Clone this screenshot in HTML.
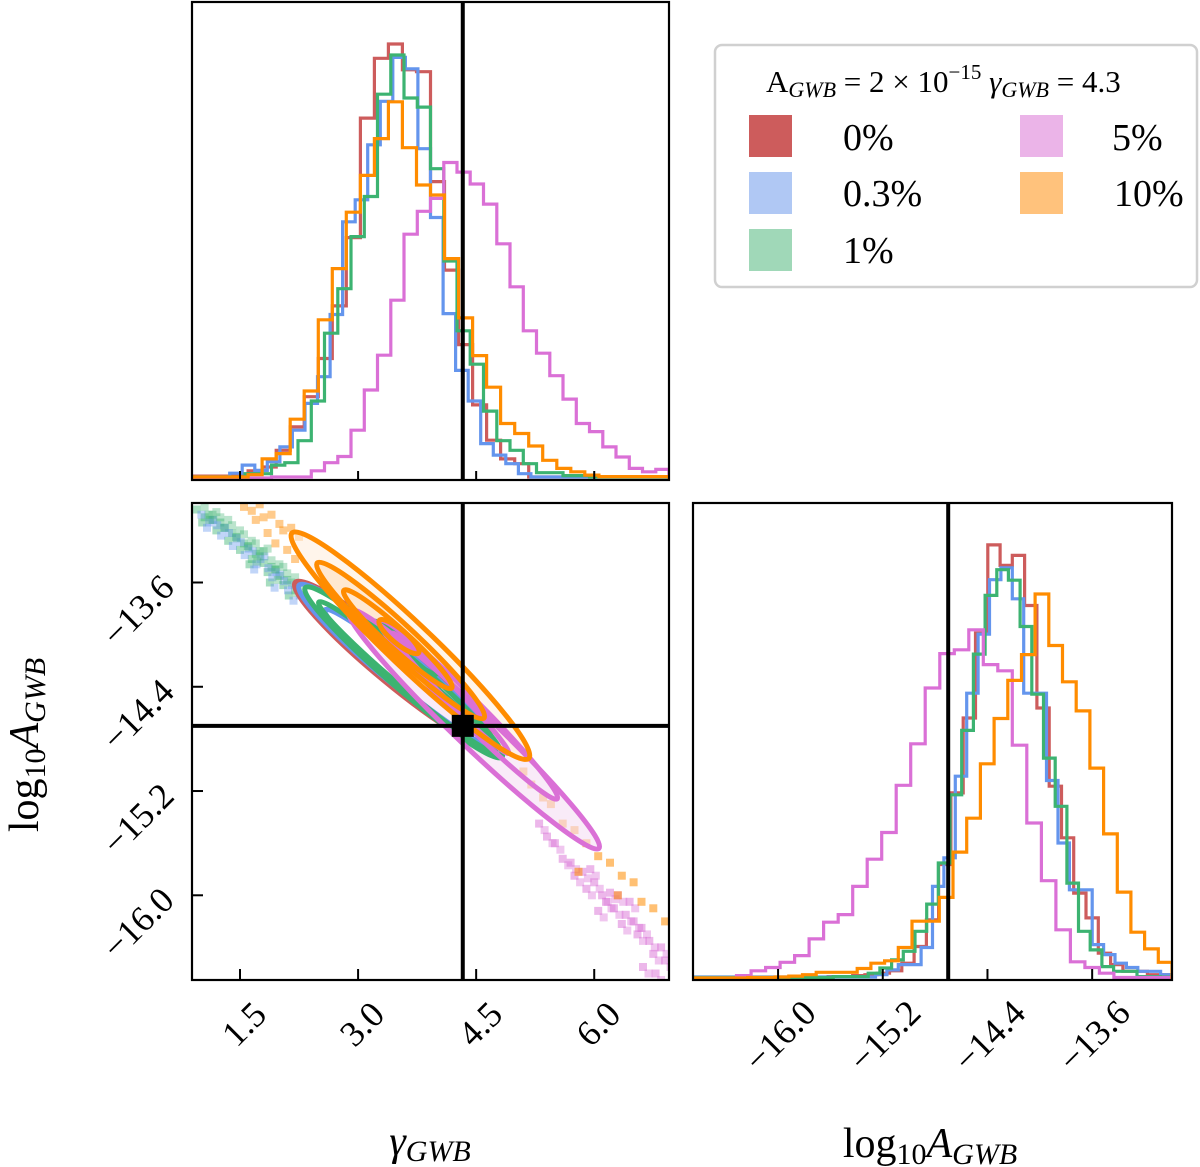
<!DOCTYPE html>
<html><head><meta charset="utf-8"><style>
html,body{margin:0;padding:0;background:#fff;}
svg{display:block;font-family:"Liberation Serif","DejaVu Serif",serif;}
</style></head><body>
<svg id="fig" width="1200" height="1167" viewBox="0 0 1200 1167" xmlns="http://www.w3.org/2000/svg">
<g id="layer"></g>
<g>
<rect x="715" y="45" width="482" height="242" rx="7" fill="#fff" stroke="#d0d0d0" stroke-width="2.5"/>
<text x="766" y="92" font-size="31">A<tspan font-style="italic" font-size="22" dy="5">GWB</tspan><tspan dy="-5"> = 2 × 10</tspan><tspan font-size="21" dy="-13">−15</tspan><tspan dy="13" font-style="italic"> γ</tspan><tspan font-style="italic" font-size="22" dy="5">GWB</tspan><tspan dy="-5"> = 4.3</tspan></text>
<rect x="749" y="115" width="43" height="42" fill="#cd5c5c"/>
<text x="843" y="150" font-size="38">0%</text>
<rect x="749" y="172" width="43" height="42" fill="#b0c8f4"/>
<text x="843" y="206" font-size="38">0.3%</text>
<rect x="749" y="229" width="43" height="42" fill="#a0d8b8"/>
<text x="843" y="263" font-size="38">1%</text>
<rect x="1020" y="115" width="43" height="42" fill="#ebb4e8"/>
<text x="1112" y="150" font-size="38">5%</text>
<rect x="1020" y="172" width="43" height="42" fill="#ffc27c"/>
<text x="1114" y="206" font-size="38">10%</text>
</g>
<text x="430" y="1155" font-size="42" text-anchor="middle" font-style="italic">γ<tspan font-size="30" dy="6">GWB</tspan></text>
<text x="930" y="1157" font-size="42" text-anchor="middle">log<tspan font-size="30" dy="7">10</tspan><tspan dy="-7" font-style="italic">A</tspan><tspan font-style="italic" font-size="30" dy="7">GWB</tspan></text>
<text transform="translate(38,745) rotate(-90)" font-size="42" text-anchor="middle">log<tspan font-size="30" dy="7">10</tspan><tspan dy="-7" font-style="italic">A</tspan><tspan font-style="italic" font-size="30" dy="7">GWB</tspan></text>
</svg>
<script>
// ---- data ----
const gammaTicks = [1.5, 3.0, 4.5, 6.0];
const gammaTickLabels = ["1.5", "3.0", "4.5", "6.0"];
const logATicks = [-13.6, -14.4, -15.2, -16.0];
const logATickLabels = ["\u221213.6", "\u221214.4", "\u221215.2", "\u221216.0"];
const truthGamma = 4.33;
const truthLogA = -14.7;
const gammaRange = [0.89, 6.95];
const logARange = [-16.65, -12.99];

const gammaHistRed = [0.4,0.4,0.4,0.5,1.5,2.3,5.8,10.7,17,25,36,50.3,75.3,87.8,90.8,85.4,85,62,43.5,27.9,15.3,7.9,4,3,0.2,0.2,0.2,0.2,0.2,0.2,0.2,0.2,0.2,0.2];
const gammaHistBlue = [0.2,0.2,0.2,1,2.7,1.6,3.4,6.5,10,15.6,21.2,34.2,53.6,58.2,69.7,78.8,88,85.6,68.9,54.5,34.4,22.5,16.1,7.2,4.8,3,0.9,0.2,0.2,0.2,0.2,0.2,0.2,0.2,0.2,0.2,0.2,0.2];
const gammaHistGreen = [0.2,0.2,0.2,0.2,0.9,0.9,2.7,3.2,7.8,16.1,30.3,39.6,50.5,58.9,80.3,88.5,79.5,77.6,64.7,45.4,30.8,23.8,14,7.8,5.8,3,1.1,1.1,0.5,0.5,0.2,0.2,0.2,0.2,0.2,0.2];
const gammaHistPink = [0,0,0,0,0,0,0.2,0.2,0.2,1.5,3.2,4.5,10,18.4,25.7,37.2,51,55.8,58.5,66,64,61.5,57.3,49,40,30.8,26.1,21.4,16.5,11.4,9.7,6.5,4.4,2,1.3,1.8];
const gammaHistOrange = [0.2,0.2,0.2,0.2,0.7,4,5.1,12.3,18.2,33.1,43.8,55.6,63.3,71,78.7,69.1,61.3,59.2,45.9,33.5,25.6,19,11.4,9.3,6.7,3.7,2,1.3,0.6,0.3,0.3,0.3,0.3,0.3];

const logAHistRed = [0,0,0,0,0,0,0,0,0,0,0,0.3,0.3,0.5,0.7,1,1.5,3.1,6.6,12.2,23.8,38.8,54.5,72.3,90.8,86.5,88.6,78.1,56.6,40.2,29.4,17.8,12.6,5.2,2.8,1.4,1.4,0.7,0.7];
const logAHistBlue = [0.2,0.2,0.2,0.2,0.2,0.2,0.2,0.2,0.2,0.2,0.2,0.2,0.2,0.2,0.2,0.2,0.7,1.7,2.8,2.8,6.4,19.2,25.2,42.3,59.7,72.1,83.5,86,79.5,59.7,59.7,41.4,28.3,18.5,18.5,7,4.9,3.1,2.2,1.4,1.4,0.7];
const logAHistGreen = [0.1,0.1,0.1,0.1,0.1,0.1,0.1,0.1,0.1,0.1,0.1,0.1,0.3,0.3,0.3,1,2.1,3.8,5.6,9.8,15.5,24.1,38.4,51.9,67.9,80.2,85.6,83.4,73.7,59.5,46.1,36,19.9,9.8,5.9,2.4,1.4,1.4,0.3,0.3,0.2];
const logAHistPink = [0,0,0,0.5,1.5,2.2,3.3,4.7,8.2,11.7,13.3,19.2,24.9,30.5,40.4,49.1,60.8,68,68.8,73,65.7,64.4,48.8,32.5,20.4,10.1,3.4,2.2,1,0.1,0.1,0.1,0.1];
const logAHistOrange = [0,0,0,0,0.1,0.1,0.2,0.4,0.7,1.2,1.2,1.2,2,3.1,3.6,6.4,11.9,11.9,16.9,26.4,33.5,44.9,54.4,62.4,67.8,80.5,69.7,62.1,56,44,30.2,18,9.6,6.1,3.3];

// contours: major-axis endpoints in data units (gamma, logA)
const contourSeries = ["red","blue","blue","green","green","green","pink","pink","pink","orange","orange","orange","orange"];
const contourG1 = [2.20,2.25,2.58,2.33,2.50,3.20,2.88,3.27,3.43,2.16,2.48,2.82,3.27];
const contourA1 = [-13.60,-13.62,-13.81,-13.64,-13.75,-13.90,-13.81,-13.89,-13.99,-13.22,-13.45,-13.66,-13.89];
const contourG2 = [4.72,4.68,4.66,4.83,4.75,4.00,6.06,5.53,4.91,5.17,4.60,4.19,3.77];
const contourA2 = [-14.86,-14.83,-14.84,-14.94,-14.90,-14.30,-15.64,-15.26,-14.91,-14.95,-14.64,-14.41,-14.14];
const contourHalfWidth = [19,17,11,16,11,6,18,12,7,22,15,10,7];

// scatter samples outside contours
const scatterUpperG = [0.95,1.05,1.15,1.2,1.3,1.35,1.45,1.5,1.6,1.65,1.7,1.8,1.85,1.9,2.0,2.05,2.1,2.2,1.25,1.55,1.75,1.95,1.1,1.4,1.62,1.88,2.12,1.02];
const scatterUpperA = [-13.04,-13.1,-13.12,-13.2,-13.18,-13.28,-13.25,-13.35,-13.32,-13.42,-13.38,-13.45,-13.52,-13.48,-13.55,-13.62,-13.58,-13.66,-13.14,-13.3,-13.36,-13.5,-13.08,-13.22,-13.46,-13.6,-13.7,-13.14];
const scatterOrangeTopG = [1.55,1.65,1.75,1.8,1.9,2.0,2.05,2.15,2.25,1.7,1.95,2.1,1.85,2.2];
const scatterOrangeTopA = [-13.02,-13.05,-13.0,-13.1,-13.08,-13.15,-13.2,-13.18,-13.25,-13.12,-13.3,-13.35,-13.22,-13.42];
const scatterPinkG = [5.3,5.4,5.5,5.6,5.7,5.75,5.85,5.9,6.0,6.1,6.15,6.25,6.3,6.4,6.5,6.55,6.6,6.7,6.75,6.85,6.9,6.45,6.2,6.62,6.78,5.95,6.35,6.05];
const scatterPinkA = [-15.45,-15.55,-15.6,-15.72,-15.75,-15.85,-15.82,-15.95,-15.9,-16.0,-16.05,-16.1,-16.0,-16.15,-16.2,-16.3,-16.25,-16.35,-16.45,-16.4,-16.5,-16.05,-15.98,-16.55,-16.6,-15.8,-16.22,-16.12];
const scatterOrangeLowG = [5.1,5.2,5.35,5.45,5.6,5.75,5.9,6.05,6.2,6.35,6.5,6.6,6.75,6.9,5.8,6.3];
const scatterOrangeLowA = [-15.05,-15.15,-15.25,-15.3,-15.45,-15.5,-15.6,-15.7,-15.75,-15.85,-15.9,-16.05,-16.1,-16.2,-15.82,-16.0];

const colors = {red:"#cd5c5c", blue:"#6495ed", green:"#3cb371", pink:"#da70d6", orange:"#ff8c00"};

// ---- geometry ----
const TL = {x0:192, x1:669, y0:2, y1:480};
const BL = {x0:192, x1:669, y0:503, y1:980};
const BR = {x0:693, x1:1172, y0:503, y1:980};
function gx(g, p){ return p.x0 + (g - gammaRange[0]) / (gammaRange[1] - gammaRange[0]) * (p.x1 - p.x0); }
function ay(a, p){ return p.y0 + (logARange[1] - a) / (logARange[1] - logARange[0]) * (p.y1 - p.y0); }
function ax(a, p){ return p.x0 + (a - logARange[0]) / (logARange[1] - logARange[0]) * (p.x1 - p.x0); }
function hy(v, p){ return p.y1 - 2 - v / 100 * (p.y1 - p.y0); }

const NS = "http://www.w3.org/2000/svg";
const layer = document.getElementById("layer");
function mk(tag, attrs, parent){
  const e = document.createElementNS(NS, tag);
  for (const k in attrs) e.setAttribute(k, attrs[k]);
  (parent || layer).appendChild(e);
  return e;
}

const defs = mk("defs", {});
[["clipTL",TL],["clipBL",BL],["clipBR",BR]].forEach(([id,p])=>{
  const c = mk("clipPath", {id:id}, defs);
  mk("rect", {x:p.x0, y:p.y0, width:p.x1-p.x0, height:p.y1-p.y0}, c);
});

// ---- histograms ----
function hist(values, p, clip, color, name, lo, hi, mapX){
  const n = values.length;
  let d = "M" + p.x0 + "," + (p.y1);
  for (let i = 0; i < n; i++){
    const xa = mapX(lo + (hi - lo) * i / n, p);
    const xb = mapX(lo + (hi - lo) * (i + 1) / n, p);
    const y = hy(values[i], p);
    d += " L" + xa.toFixed(1) + "," + y.toFixed(1) + " L" + xb.toFixed(1) + "," + y.toFixed(1);
  }
  d += " L" + p.x1 + "," + p.y1;
  const el = mk("path", {d:d, fill:"none", stroke:color, "stroke-width":3.2, "clip-path":"url(#"+clip+")"});
  
  
}
hist(gammaHistRed, TL, "clipTL", colors.red, "gamma-hist-0pct", gammaRange[0], gammaRange[1], gx);
hist(gammaHistBlue, TL, "clipTL", colors.blue, "gamma-hist-0.3pct", gammaRange[0], gammaRange[1], gx);
hist(gammaHistGreen, TL, "clipTL", colors.green, "gamma-hist-1pct", gammaRange[0], gammaRange[1], gx);
hist(gammaHistPink, TL, "clipTL", colors.pink, "gamma-hist-5pct", gammaRange[0], gammaRange[1], gx);
hist(gammaHistOrange, TL, "clipTL", colors.orange, "gamma-hist-10pct", gammaRange[0], gammaRange[1], gx);

hist(logAHistRed, BR, "clipBR", colors.red, "logA-hist-0pct", logARange[0], logARange[1], ax);
hist(logAHistBlue, BR, "clipBR", colors.blue, "logA-hist-0.3pct", logARange[0], logARange[1], ax);
hist(logAHistGreen, BR, "clipBR", colors.green, "logA-hist-1pct", logARange[0], logARange[1], ax);
hist(logAHistPink, BR, "clipBR", colors.pink, "logA-hist-5pct", logARange[0], logARange[1], ax);
hist(logAHistOrange, BR, "clipBR", colors.orange, "logA-hist-10pct", logARange[0], logARange[1], ax);

// ---- 2D panel ----
const g2 = mk("g", {"clip-path":"url(#clipBL)"});


function scatter(G, A, color, name, op){
  for (let i = 0; i < G.length; i++){
    const c = mk("rect", {x:(gx(G[i],BL)-4).toFixed(1), y:(ay(A[i],BL)-4).toFixed(1), width:8, height:8, fill:color, opacity:op}, g2);
    
    
  }
}
scatter(scatterUpperG, scatterUpperA, colors.green, "scatter-point-1pct", 0.45);
scatter(scatterUpperG.map(v=>v+0.06), scatterUpperA.map(v=>v-0.04), colors.blue, "scatter-point-0.3pct", 0.4);
scatter(scatterUpperG.map(v=>v+0.1), scatterUpperA.map(v=>v+0.02), colors.green, "scatter-point-1pct", 0.35);
scatter(scatterOrangeTopG, scatterOrangeTopA, colors.orange, "scatter-point-10pct", 0.45);
scatter(scatterPinkG, scatterPinkA, colors.pink, "scatter-point-5pct", 0.5);
scatter(scatterPinkG.map(v=>v+0.07), scatterPinkA.map(v=>v-0.05), colors.pink, "scatter-point-5pct", 0.4);
scatter(scatterOrangeLowG, scatterOrangeLowA, colors.orange, "scatter-point-10pct", 0.55);

function ellipse(i, fill, fillOp){
  const x1 = gx(contourG1[i],BL), y1 = ay(contourA1[i],BL);
  const x2 = gx(contourG2[i],BL), y2 = ay(contourA2[i],BL);
  const cx = (x1+x2)/2, cy = (y1+y2)/2;
  const rx = Math.hypot(x2-x1, y2-y1)/2;
  const ang = Math.atan2(y2-y1, x2-x1) * 180 / Math.PI;
  const e = mk("ellipse", {cx:cx.toFixed(1), cy:cy.toFixed(1), rx:rx.toFixed(1), ry:contourHalfWidth[i],
    transform:"rotate("+ang.toFixed(2)+" "+cx.toFixed(1)+" "+cy.toFixed(1)+")",
    fill: fill || "none", "fill-opacity": fillOp || 0,
    stroke: fill ? "none" : colors[contourSeries[i]], "stroke-width": 5}, g2);
  
  
}
ellipse(6, "#f5def4", 0.6);
ellipse(9, "#ffeedd", 0.6);
ellipse(10, "#ffdcb8", 0.5);
for (let i = 0; i < contourSeries.length; i++){ if (contourSeries[i] !== "pink" && contourSeries[i] !== "orange") ellipse(i); }
for (let i = 0; i < contourSeries.length; i++){ if (contourSeries[i] === "pink") ellipse(i); }
for (let i = 0; i < contourSeries.length; i++){ if (contourSeries[i] === "orange") ellipse(i); }

function line(x1,y1,x2,y2,name,w){
  const l = mk("line", {x1:x1,y1:y1,x2:x2,y2:y2,stroke:"#000","stroke-width":w||4});
  
  
}
line(gx(truthGamma,TL), TL.y0, gx(truthGamma,TL), TL.y1, "truth-line-gamma-hist");
line(gx(truthGamma,BL), BL.y0, gx(truthGamma,BL), BL.y1, "truth-line-gamma-joint");
line(BL.x0, ay(truthLogA,BL), BL.x1, ay(truthLogA,BL), "truth-line-logA-joint");
line(ax(truthLogA,BR), BR.y0, ax(truthLogA,BR), BR.y1, "truth-line-logA-hist");
const sq = mk("rect", {x:gx(truthGamma,BL)-11, y:ay(truthLogA,BL)-11, width:22, height:22, fill:"#000"});



[[TL,"gamma-hist-frame"],[BL,"joint-frame"],[BR,"logA-hist-frame"]].forEach(([p,n])=>{
  const r = mk("rect", {x:p.x0, y:p.y0, width:p.x1-p.x0, height:p.y1-p.y0, fill:"none", stroke:"#000", "stroke-width":2.2});
  
  
});

gammaTicks.forEach((t,i)=>{
  line(gx(t,TL), TL.y1, gx(t,TL), TL.y1-9, "gamma-hist-tick", 2);
  line(gx(t,BL), BL.y1, gx(t,BL), BL.y1-11, "x-tick-gamma", 2);
  const x = gx(t,BL) + 4, y = 1024;
  const tx = mk("text", {x:x, y:y, "font-size":36, "text-anchor":"middle", "dominant-baseline":"central", transform:"rotate(-45 "+x+" "+y+")"});
  tx.textContent = gammaTickLabels[i];
  
  
});
logATicks.forEach((t,i)=>{
  line(BL.x0, ay(t,BL), BL.x0+11, ay(t,BL), "y-tick-logA", 2);
  const y = ay(t,BL) + 28, x = 138;
  const ty = mk("text", {x:x, y:y, "font-size":36, "text-anchor":"middle", "dominant-baseline":"central", transform:"rotate(-45 "+x+" "+y+")"});
  ty.textContent = logATickLabels[i];
  
  
  line(ax(t,BR), BR.y1, ax(t,BR), BR.y1-11, "x-tick-logA", 2);
  const x2 = ax(t,BR) + 2, y2 = 1036;
  const tz = mk("text", {x:x2, y:y2, "font-size":36, "text-anchor":"middle", "dominant-baseline":"central", transform:"rotate(-45 "+x2+" "+y2+")"});
  tz.textContent = logATickLabels[i];
  
  
});
</script>
</body></html>
